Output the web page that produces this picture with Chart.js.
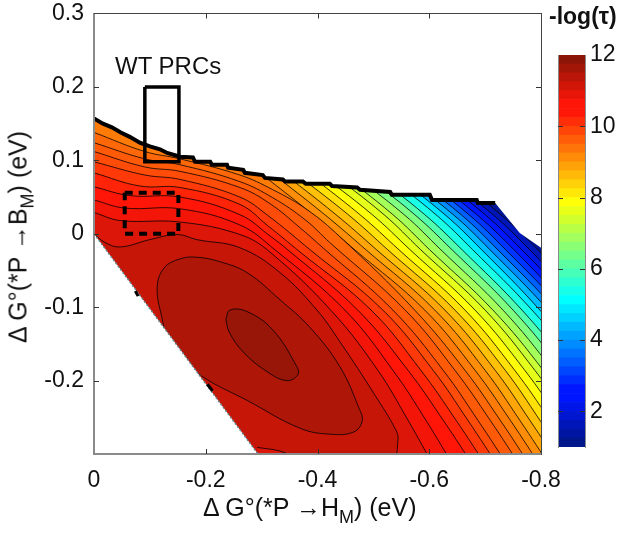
<!DOCTYPE html>
<html>
<head>
<meta charset="utf-8">
<script src="https://cdn.jsdelivr.net/npm/chart.js@4"></script>
<style>
  body { margin: 0; background: #fff; font-family: "Liberation Sans", sans-serif; color: #111; }
  #page { position: relative; width: 625px; height: 534px; overflow: hidden; }
  canvas { position: absolute; left: 0; top: 0; }
  .txt { position: absolute; white-space: nowrap; font-size: 25px; }
  .txt sub { font-size: 18px; vertical-align: -7px; line-height: 0; }
</style>
</head>
<body>
<div id="page">
  <canvas id="mainChart" width="625" height="534"></canvas>
  <canvas id="barChart" width="85" height="534" style="left:540px"></canvas>
  <div class="txt" style="left:115px;top:52px;font-size:24px">WT PRCs</div>
  <div class="txt" style="left:549px;top:3px;font-weight:bold;font-size:23px">-log(τ)</div>
  <div class="txt" style="left:203px;top:493px">Δ G°(*P →H<sub>M</sub>) (eV)</div>
  <div class="txt" style="left:18px;top:237px;transform:translate(-50%,-50%) rotate(-90deg)">Δ G°(*P →B<sub>M</sub>) (eV)</div>
</div>
<script>
// tick labels
const xTicks = [0, -0.2, -0.4, -0.6, -0.8];
const yTicks = [-0.2, -0.1, 0, 0.1, 0.2, 0.3];
const barTicks = [2, 4, 6, 8, 10, 12];

// colorbar steps
const barEdges = [1, 1.25, 1.5, 1.75, 2, 2.25, 2.5, 2.75, 3, 3.25, 3.5, 3.75, 4, 4.25, 4.5, 4.75, 5, 5.25, 5.5, 5.75, 6, 6.25, 6.5,
  6.75, 7, 7.25, 7.5, 7.75, 8, 8.25, 8.5, 8.75, 9, 9.25, 9.5, 9.75, 10, 10.25, 10.5, 10.75, 11, 11.25, 11.5, 11.75, 12];

// contours on the right side, x read at fixed heights (rowY)
const rowY = [0.09, 0.026, -0.022, -0.104, -0.186, -0.254, -0.322];
const rightLevels = [1.25, 1.6, 2.05, 2.5, 2.95, 3.4, 3.9, 4.4, 4.9, 5.4, 6.0, 6.5, 6.9, 7.3, 7.6, 7.9, 8.2, 8.55, 8.85, 9.1, 9.3];
const rightX = [
  [-.635, -.743, -.809, -.913],
  [-.621, -.728, -.795, -.898],
  [-.607, -.714, -.780, -.884],
  [-.592, -.700, -.766, -.870],
  [-.578, -.685, -.752, -.855],
  [-.564, -.671, -.737, -.841, -.93],
  [-.549, -.657, -.723, -.827, -.916],
  [-.535, -.643, -.709, -.813, -.902],
  [-.521, -.628, -.694, -.798, -.888],
  [-.505, -.612, -.678, -.784, -.873, -.936],
  [-.485, -.592, -.659, -.766, -.855, -.918],
  [-.467, -.574, -.641, -.750, -.839, -.902],
  [-.447, -.555, -.621, -.732, -.821, -.884, -.943],
  [-.428, -.535, -.601, -.714, -.804, -.866, -.925],
  [-.412, -.519, -.585, -.700, -.789, -.852, -.911],
  [-.390, -.498, -.566, -.682, -.771, -.834, -.893],
  [-.369, -.476, -.546, -.664, -.753, -.816, -.875],
  [-.347, -.455, -.526, -.646, -.736, -.798, -.857],
  [-.326, -.433, -.506, -.628, -.718, -.780, -.839],
  [-.306, -.413, -.487, -.610, -.700, -.762, -.821],
  [-.285, -.392, -.467, -.592, -.682, -.745, -.804]
];

// contours that start on the left edge
const upperLevels = [9.5, 9.65, 9.8, 10.0, 10.25, 10.5, 10.75, 11.0, 11.25];
const upperLines = [
  [[0, .138], [-.091, .112], [-.154, .102], [-.261, .080], [-.320, .060], [-.381, .033], [-.440, -.004], [-.574, -.104], [-.664, -.186], [-.727, -.254], [-.786, -.322]],
  [[0, .124], [-.091, .102], [-.154, .094], [-.261, .071], [-.320, .049], [-.378, .019], [-.422, -.012], [-.557, -.104], [-.646, -.186], [-.709, -.254], [-.768, -.322]],
  [[0, .112], [-.091, .091], [-.154, .085], [-.261, .063], [-.315, .041], [-.369, .008], [-.408, -.018], [-.535, -.104], [-.625, -.186], [-.687, -.254], [-.746, -.322]],
  [[0, .098], [-.091, .080], [-.154, .074], [-.261, .050], [-.311, .025], [-.387, -.022], [-.517, -.104], [-.607, -.186], [-.669, -.254], [-.728, -.322]],
  [[0, .083], [-.082, .065], [-.154, .063], [-.261, .040], [-.311, .011], [-.369, -.025], [-.496, -.104], [-.585, -.186], [-.648, -.254], [-.707, -.322]],
  [[0, .064], [-.064, .052], [-.154, .050], [-.261, .026], [-.315, -.003], [-.347, -.022], [-.472, -.104], [-.562, -.186], [-.625, -.254], [-.684, -.322]],
  [[0, .046], [-.055, .035], [-.154, .034], [-.261, .012], [-.324, -.022], [-.449, -.104], [-.535, -.186], [-.594, -.254], [-.648, -.322]],
  [[0, .029], [-.047, .018], [-.154, .016], [-.261, -.001], [-.315, -.025], [-.426, -.106], [-.508, -.186], [-.562, -.254], [-.612, -.322]],
  [[0, 0], [-.020, -.012], [-.047, -.018], [-.100, -.008], [-.149, -.001], [-.184, -.008], [-.261, -.019], [-.333, -.053], [-.399, -.104], [-.440, -.147], [-.503, -.220], [-.540, -.267], [-.544, -.281], [-.533, -.306], [-.369, -.306], [-.333, -.296], [-.292, -.291]]
];

// closed contours around the maximum
const loopLevels = [11.5, 11.75];
const loops = [
  [[-.123, -.120], [-.113, -.075], [-.125, -.047], [-.155, -.034], [-.184, -.032], [-.225, -.038], [-.274, -.053], [-.333, -.090], [-.387, -.128], [-.440, -.181], [-.474, -.237], [-.480, -.255], [-.465, -.270], [-.422, -.273], [-.369, -.265], [-.274, -.227], [-.195, -.195], [-.136, -.158], [-.123, -.120]],
  [[-.236, -.117], [-.243, -.104], [-.274, -.106], [-.320, -.131], [-.363, -.181], [-.365, -.192], [-.345, -.200], [-.310, -.188], [-.267, -.161], [-.242, -.134], [-.236, -.117]]
];

// edge of the computed region
const topEdge = [[0, .157], [-.016, .150], [-.032, .145], [-.048, .138], [-.064, .132], [-.082, .124], [-.100, .119], [-.118, .115], [-.131, .110], [-.154, .105],
  [-.177, .104], [-.181, .098], [-.208, .098], [-.211, .094], [-.238, .094], [-.240, .090], [-.267, .087], [-.270, .083], [-.302, .080], [-.306, .076],
  [-.338, .074], [-.342, .071], [-.374, .071], [-.379, .068], [-.422, .068], [-.426, .065], [-.471, .063], [-.476, .060], [-.530, .057], [-.533, .053],
  [-.601, .053], [-.605, .046], [-.685, .046], [-.687, .042], [-.718, .042]];
const slopeEdge = [[-.762, .001], [-.8, -.019]];
const lowEdge = [[0, 0], [-.2935, -.3]];
const lowBlobs = [[[-.074, -.078], [-.079, -.085]], [[-.203, -.205], [-.212, -.214]]];

// marked boxes
const wtBox = [[-.091, .2], [-.152, .2], [-.152, .098], [-.091, .098], [-.091, .2]];
const dashBox = [[-.055, .056], [-.151, .056], [-.151, 0], [-.055, 0], [-.055, .056]];

function jet(v) {
  const t = (v - 1) / 11;
  const ch = d => Math.round(255 * Math.max(0, Math.min(1, 1.5 - Math.abs(4 * t - d))));
  return 'rgb(' + ch(3) + ',' + Math.max(ch(2), 22) + ',' + Math.max(ch(1), 8) + ')';
}

const toXY = p => ({x: p[0], y: p[1]});
const datasets = [];

function addShape(pts, color) {
  datasets.push({data: pts.map(toXY), showLine: true, pointRadius: 0, borderWidth: 0, tension: 0,
    fill: 'shape', backgroundColor: color, borderColor: color, order: -datasets.length});
}
function addLine(pts, color, width, extra) {
  datasets.push(Object.assign({data: pts.map(toXY), showLine: true, pointRadius: 0, borderWidth: width,
    borderColor: color, fill: false, tension: 0, order: -datasets.length}, extra || {}));
}
function addBand(pts, level, closed) {
  const first = pts[0], last = pts[pts.length - 1];
  const outline = closed ? pts : pts.concat([last, [last[0], -.35], [last[0], -.35], [0, -.35], [0, -.35], [0, .3], [0, .3], [first[0], .3], [first[0], .3]]);
  addShape(outline, jet(level));
  datasets[datasets.length - 1].tension = 0.4;
  datasets[datasets.length - 1].capBezierPoints = false;
  addLine(pts, 'rgba(0,0,0,0.78)', 1, {tension: 0.4, capBezierPoints: false});
}

addShape([[0, .3], [-.8, .3], [-.8, -.3], [0, -.3]], jet(1.05));
rightLevels.forEach((lv, i) => addBand(rightX[i].map((x, k) => [x, rowY[k]]), lv, false));
upperLevels.forEach((lv, i) => addBand(upperLines[i], lv, false));
loopLevels.forEach((lv, i) => addBand(loops[i], lv, true));

// white outside the region
addShape(topEdge.concat(slopeEdge, [[-.8, .3], [0, .3]]), '#fff');
addShape(lowEdge.concat([[0, -.3]]), '#fff');
addLine(lowEdge, '#5d8a92', 1.5, {borderDash: [2, 2]});
lowBlobs.forEach(b => addLine(b, '#000', 3));
addLine(topEdge, '#000', 4);
addLine(wtBox, '#000', 3.5);
addLine(dashBox, '#000', 4, {borderDash: [8, 6]});

const tickFont = {family: '"Liberation Sans"', size: 23};
const axisGrey = '#8a8a8a';

// matlab style ticks: short marks inside the box on both sides
const innerTicks = {
  id: 'innerTicks',
  afterDraw(chart, args, opts) {
    const {ctx, chartArea: a, scales} = chart;
    ctx.save();
    ctx.strokeStyle = '#333';
    ctx.lineWidth = 1;
    ctx.beginPath();
    (opts.y || []).forEach(v => {
      const p = Math.round(scales.y.getPixelForValue(v)) + 0.5;
      ctx.moveTo(a.left, p); ctx.lineTo(a.left + 5, p);
      ctx.moveTo(a.right, p); ctx.lineTo(a.right - 5, p);
    });
    (opts.x || []).forEach(v => {
      const p = Math.round(scales.x.getPixelForValue(v)) + 0.5;
      ctx.moveTo(p, a.bottom); ctx.lineTo(p, a.bottom - 5);
      ctx.moveTo(p, a.top); ctx.lineTo(p, a.top + 5);
    });
    ctx.stroke();
    ctx.restore();
  }
};

function edgeAxis(pos, axis, min, max, reverse, color) {
  return {
    type: 'linear', position: pos, min: min, max: max, reverse: reverse, display: true,
    border: {color: color, width: 1, z: 2},
    grid: {drawOnChartArea: false, drawTicks: false},
    ticks: {display: false},
    afterFit: s => { if (axis === 'x') s.height = 0; else s.width = 0; }
  };
}

new Chart('mainChart', {
  type: 'scatter',
  data: {datasets: datasets},
  plugins: [innerTicks],
  options: {
    responsive: false,
    animation: false,
    events: [],
    layout: {padding: {left: 0, top: 13.5, right: 84, bottom: 0}},
    plugins: {legend: {display: false}, tooltip: {enabled: false},
      innerTicks: {x: xTicks.slice(1, 4), y: yTicks.slice(0, 5)}},
    scales: {
      x: {
        type: 'linear', position: 'bottom', min: -.8, max: 0, reverse: true,
        border: {color: axisGrey, width: 2, z: 2},
        grid: {drawOnChartArea: false, drawTicks: false},
        ticks: {font: tickFont, color: '#111', padding: 13, maxRotation: 0, callback: v => String(v)},
        afterBuildTicks: s => { s.ticks = xTicks.map(v => ({value: v})); },
        afterFit: s => { s.height = 80; }
      },
      y: {
        type: 'linear', position: 'left', min: -.3, max: .3,
        border: {color: axisGrey, width: 2, z: 2},
        grid: {drawOnChartArea: false, drawTicks: false},
        ticks: {font: tickFont, color: '#111', padding: 10, callback: v => String(v)},
        afterBuildTicks: s => { s.ticks = yTicks.map(v => ({value: v})); },
        afterFit: s => { s.width = 94; s.paddingTop = 0; s.paddingBottom = 0; }
      },
      xTop: edgeAxis('top', 'x', -.8, 0, true, '#444'),
      yRight: edgeAxis('right', 'y', -.3, .3, false, '#444')
    }
  }
});

// colorbar: one floating bar per step
const barSets = barEdges.slice(0, -1).map((lo, i) => ({
  data: [[lo, barEdges[i + 1]]],
  backgroundColor: jet((lo + barEdges[i + 1]) / 2),
  barPercentage: 1, categoryPercentage: 1, grouped: false, borderWidth: 0
}));

new Chart('barChart', {
  type: 'bar',
  data: {labels: [''], datasets: barSets},
  plugins: [innerTicks],
  options: {
    responsive: false,
    animation: false,
    events: [],
    layout: {padding: {left: 18, top: 55, right: 0, bottom: 87}},
    plugins: {legend: {display: false}, tooltip: {enabled: false},
      innerTicks: {y: barTicks.slice(0, 5)}},
    scales: {
      x: {display: false, offset: true, grid: {display: false}},
      y: {
        position: 'right', min: 1, max: 12,
        border: {color: axisGrey, width: 1, z: 2},
        grid: {drawOnChartArea: false, drawTicks: false},
        ticks: {font: tickFont, color: '#111', padding: 5, callback: v => String(v)},
        afterBuildTicks: s => { s.ticks = barTicks.map(v => ({value: v})); },
        afterFit: s => { s.width = 40; }
      },
      yLeft: {
        position: 'left', min: 1, max: 12,
        border: {color: axisGrey, width: 1, z: 2},
        grid: {drawOnChartArea: false, drawTicks: false},
        ticks: {display: false},
        afterFit: s => { s.width = 0; }
      }
    }
  }
});
</script>
</body>
</html>
